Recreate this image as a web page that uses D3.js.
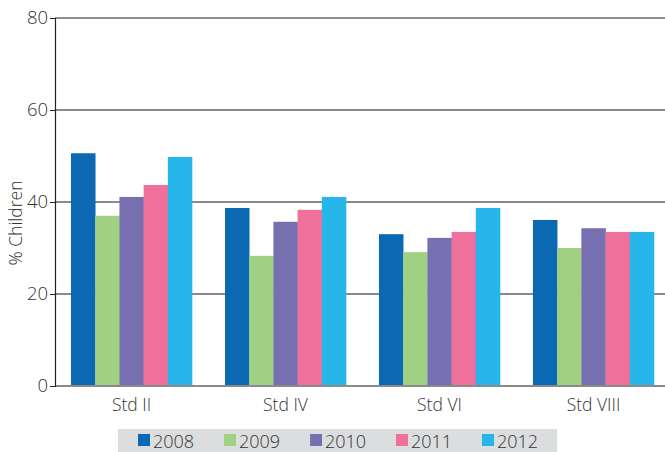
<!DOCTYPE html>
<html><head><meta charset="utf-8">
<script src="https://cdn.jsdelivr.net/npm/d3@7"></script>
<style>body{margin:0;background:#fff;} text{font-family:"Open Sans","Noto Sans",sans-serif;}</style>
</head><body>
<svg id="c" width="665" height="452"></svg>
<script>
const categories = ["Std II","Std IV","Std VI","Std VIII"];
const years = ["2008","2009","2010","2011","2012"];
const s2008 = [50.6, 38.7, 33.0, 36.1];
const s2009 = [37.0, 28.3, 29.1, 30.0];
const s2010 = [41.1, 35.7, 32.2, 34.3];
const s2011 = [43.7, 38.3, 33.5, 33.5];
const s2012 = [49.8, 41.1, 38.7, 33.5];
const yTicks = [0,20,40,60,80];
const colors = ["#0b68b2","#a0d081","#7670b1","#ef709b","#26b6ea"];
const series = [s2008,s2009,s2010,s2011,s2012];

const svg = d3.select("#c");
const L=55, R=665, T=18, B=386;
const x = d3.scaleBand().domain(categories).range([L,670]).paddingInner(0.214).paddingOuter(0.104);
const x1 = d3.scaleBand().domain(years).range([0,x.bandwidth()]);
const y = d3.scaleLinear().domain([0,80]).range([B,T]);
const FONT = "'Open Sans','Noto Sans',sans-serif";

// gridlines
svg.append("g").selectAll("line").data(yTicks.filter(d=>d>0&&d<80)).join("line")
  .attr("x1",L).attr("x2",R).attr("y1",d=>y(d)).attr("y2",d=>y(d))
  .attr("stroke","#8a8a8a").attr("stroke-width",2);
svg.append("line").attr("x1",L).attr("x2",R).attr("y1",y(80)).attr("y2",y(80)).attr("stroke","#222").attr("stroke-width",1.2);

// bars
const g = svg.append("g");
categories.forEach((c,i)=>{
  years.forEach((yr,j)=>{
    g.append("rect").attr("x",x(c)+x1(yr)).attr("width",x1.bandwidth()+0.3)
      .attr("y",y(series[j][i])).attr("height",B-y(series[j][i])).attr("fill",colors[j]);
  });
});

// bottom axis line
svg.append("line").attr("x1",L).attr("x2",R).attr("y1",B).attr("y2",B).attr("stroke","#8a8a8a").attr("stroke-width",2);

// y axis
const ya = svg.append("g").attr("transform",`translate(${L},0)`)
  .call(d3.axisLeft(y).tickValues(yTicks).tickSize(5).tickPadding(2));
ya.select(".domain").attr("stroke","#222").attr("stroke-width",1.2);
ya.selectAll(".tick line").attr("stroke","#222");
ya.selectAll("text").attr("font-size",18.5).attr("fill","#333").attr("font-family",FONT).attr("font-weight",300);

// x labels
const xa = svg.append("g").attr("transform",`translate(0,${B})`)
  .call(d3.axisBottom(x).tickSize(0).tickPadding(13));
xa.select(".domain").remove();
xa.selectAll("text").attr("font-size",17.5).attr("fill","#333").attr("font-family",FONT).attr("font-weight",300);

// y title
svg.append("text").attr("transform","translate(22,223) rotate(-90)").attr("text-anchor","middle")
  .attr("font-size",17.5).attr("font-weight",300).attr("fill","#333").text("% Children");

// legend
svg.append("rect").attr("x",118).attr("y",429).attr("width",439).attr("height",23).attr("fill","#dcdddf");
const lx = d3.scalePoint().domain(years).range([138,482]);
const lg = svg.append("g").selectAll("g").data(years).join("g").attr("transform",d=>`translate(${lx(d)},0)`);
lg.append("rect").attr("x",0).attr("y",434).attr("width",12).attr("height",12).attr("fill",(d,i)=>colors[i]);
lg.append("text").attr("x",15).attr("y",447.5).attr("font-size",18).attr("font-weight",300).attr("fill","#333").text(d=>d);
</script>
</body></html>
